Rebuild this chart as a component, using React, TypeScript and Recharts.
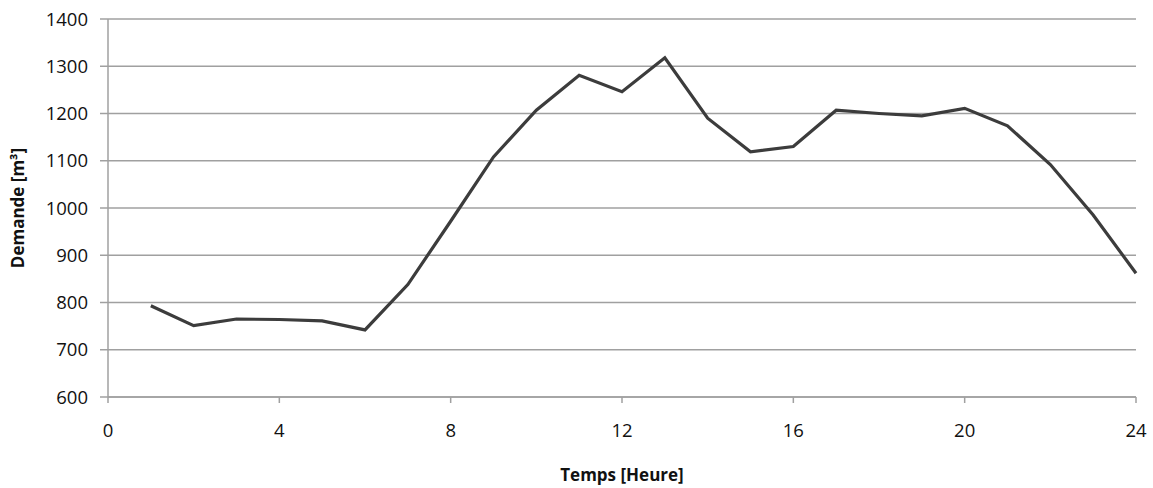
import React from "react";
import { LineChart, Line, XAxis, YAxis, CartesianGrid } from "recharts";

const hours = [1, 2, 3, 4, 5, 6, 7, 8, 9, 10, 11, 12, 13, 14, 15, 16, 17, 18, 19, 20, 21, 22, 23, 24];
const demande = [793, 751, 765, 764, 761, 742, 838, 972, 1108, 1207, 1281, 1246, 1318, 1190, 1119, 1130, 1207, 1200, 1195, 1211, 1174, 1092, 985, 862];
const xTicks = [0, 4, 8, 12, 16, 20, 24];
const yTicks = [600, 700, 800, 900, 1000, 1100, 1200, 1300, 1400];

const data = hours.map((h, i) => ({ h, v: demande[i] }));

const FONT = "'Open Sans', 'Liberation Sans', sans-serif";

export default function App() {
  return (
    <div style={{ position: "absolute", left: 0, top: 0, background: "#fff" }}>
      <LineChart width={1153} height={488} data={data} margin={{ top: 19, right: 17, bottom: 0, left: 0 }}>
        <CartesianGrid vertical={false} stroke="#a0a0a0" strokeWidth={1.5} />
        <XAxis
          dataKey="h"
          type="number"
          domain={[0, 24]}
          ticks={xTicks}
          height={91}
          stroke="#a0a0a0"
          strokeWidth={1.5}
          tickSize={6}
          tickMargin={21}
          tick={{ fill: "#111", fontSize: 18.5, fontFamily: FONT }}
          label={{ value: "Temps [Heure]", position: "insideBottom", offset: 7, style: { fill: "#111", fontSize: 17, fontWeight: 700, fontFamily: FONT } }}
        />
        <YAxis
          type="number"
          domain={[600, 1400]}
          ticks={yTicks}
          width={108}
          stroke="#a0a0a0"
          strokeWidth={1.5}
          tickSize={8}
          tickMargin={12}
          tick={{ fill: "#111", fontSize: 18.5, fontFamily: FONT }}
          label={{ value: "Demande [m³]", angle: -90, position: "insideLeft", offset: 18, style: { textAnchor: "middle", fill: "#111", fontSize: 17, fontWeight: 700, fontFamily: FONT } }}
        />
        <Line type="linear" dataKey="v" stroke="#3c3c3c" strokeWidth={3.2} dot={false} isAnimationActive={false} />
      </LineChart>
    </div>
  );
}
